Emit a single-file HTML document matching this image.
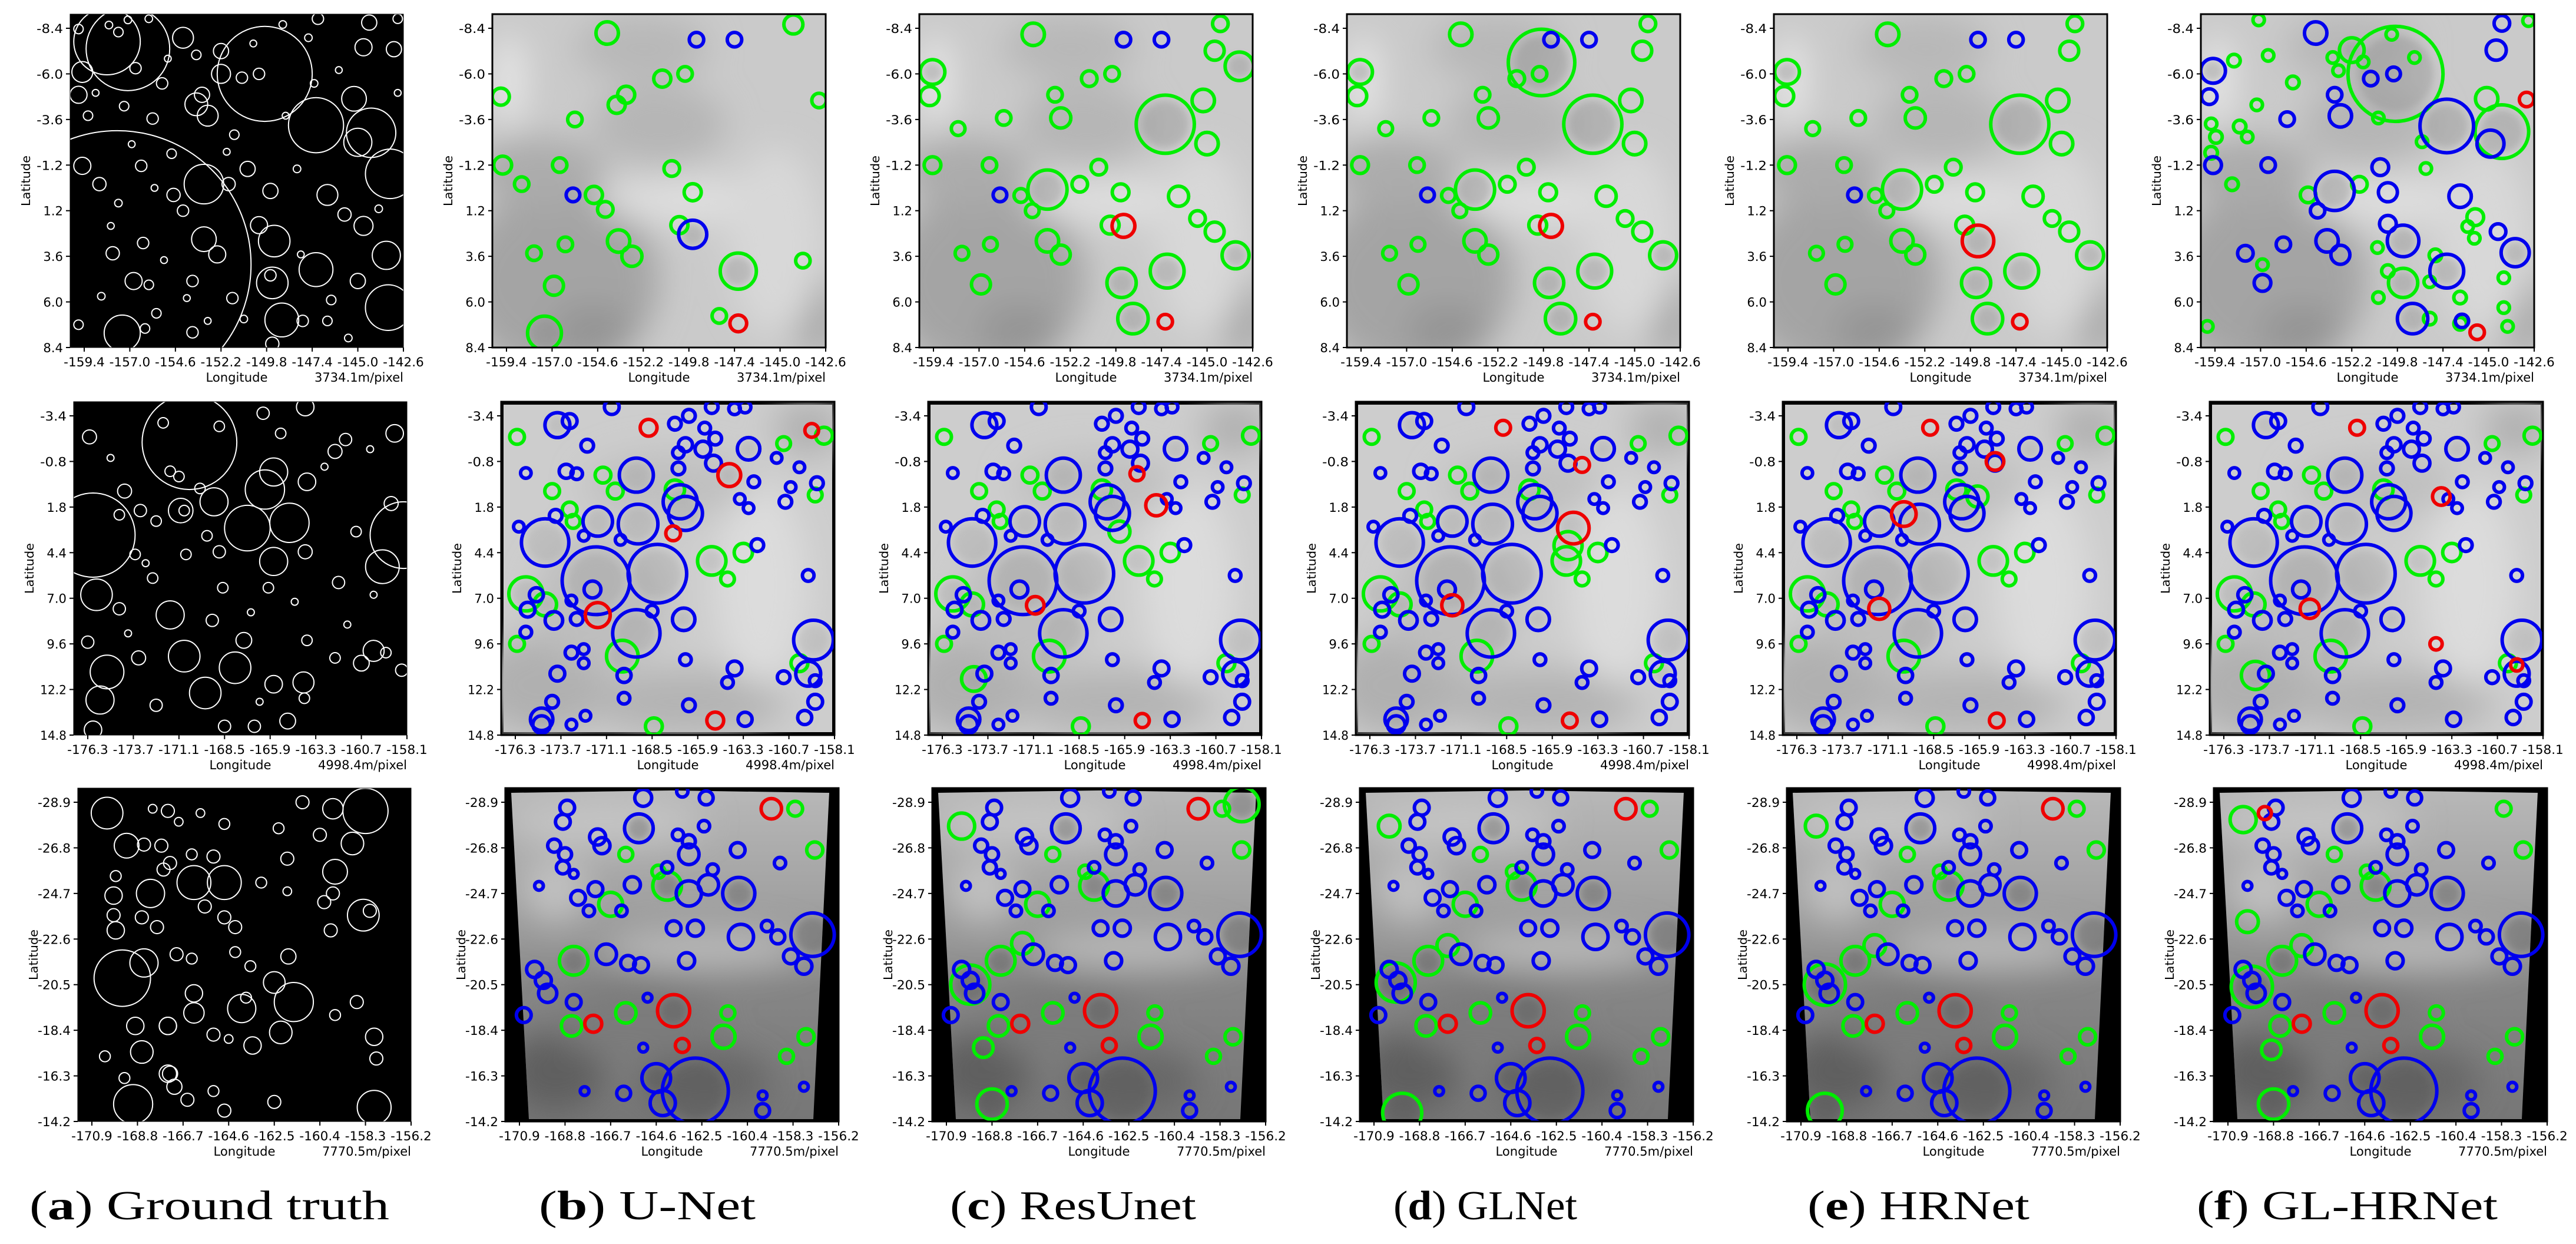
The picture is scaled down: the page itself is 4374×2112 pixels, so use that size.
<!DOCTYPE html>
<html><head><meta charset="utf-8">
<style>
html,body{margin:0;padding:0;background:#fff;}
svg{display:block;}
.tk{font-family:"DejaVu Sans Condensed","Liberation Sans Narrow","Liberation Sans",sans-serif;font-size:21px;fill:#000;}
.lat{font-family:"DejaVu Sans","Liberation Sans",sans-serif;font-size:20px;fill:#000;}
.cap{font-family:"Liberation Serif","DejaVu Serif",serif;font-size:70px;fill:#000;}
</style></head>
<body>
<svg id="fig" xmlns="http://www.w3.org/2000/svg" width="4374" height="2112" viewBox="0 0 4374 2112">
<defs>
<filter id="bl" x="-20%" y="-20%" width="140%" height="140%"><feGaussianBlur stdDeviation="28"/></filter>
<filter id="bs" x="-50%" y="-50%" width="200%" height="200%"><feGaussianBlur stdDeviation="6"/></filter>
<linearGradient id="g3" x1="0" y1="0" x2="0" y2="1">
<stop offset="0" stop-color="#b8b8b8"/><stop offset="0.3" stop-color="#a4a4a4"/><stop offset="0.45" stop-color="#989898"/><stop offset="0.6" stop-color="#868686"/><stop offset="1" stop-color="#767676"/>
</linearGradient>
</defs>
</svg>
<script>
// ---------- axes ----------
const r1Lon=[-159.4,-142.6], r1Lat=[-8.4,8.4];
const r1LonTicks=["-159.4","-157.0","-154.6","-152.2","-149.8","-147.4","-145.0","-142.6"];
const r1LatTicks=["-8.4","-6.0","-3.6","-1.2","1.2","3.6","6.0","8.4"];
const r2Lon=[-176.3,-158.1], r2Lat=[-3.4,14.8];
const r2LonTicks=["-176.3","-173.7","-171.1","-168.5","-165.9","-163.3","-160.7","-158.1"];
const r2LatTicks=["-3.4","-0.8","1.8","4.4","7.0","9.6","12.2","14.8"];
const r3Lon=[-170.9,-156.2], r3Lat=[-28.9,-14.2];
const r3LonTicks=["-170.9","-168.8","-166.7","-164.6","-162.5","-160.4","-158.3","-156.2"];
const r3LatTicks=["-28.9","-26.8","-24.7","-22.6","-20.5","-18.4","-16.3","-14.2"];
const scaleLabels=["3734.1m/pixel","4998.4m/pixel","7770.5m/pixel"];
const captionLetters=["a","b","c","d","e","f"];
const captionNames=["Ground truth","U-Net","ResUnet","GLNet","HRNet","GL-HRNet"];

// ---------- ground truth ----------
const gt1Big=[[-157.66,4.03,7.04],[-149.9,-6.0,2.5],[-147.2,-3.3,1.45],[-144.3,-2.9,1.3],[-157.1,-7.32,2.2],[-158.2,-7.7,1.75],[-153.1,-0.2,1.04],[-143.4,6.3,1.2],[-157.4,7.64,0.95],[-149.0,6.95,0.89],[-147.2,4.3,0.89],[-143.5,3.55,0.74],[-143.3,-0.74,1.3],[-145.0,-2.4,0.74],[-145.2,-4.69,0.65],[-149.5,5.0,0.83],[-149.4,2.8,0.83],[-153.1,2.7,0.65],[-152.4,3.5,0.45],[-153.5,-4.4,0.6],[-154.2,-7.9,0.55],[-152.2,-6.0,0.5]];
const gt1Small=[[-159.7,-8.36,0.25],[-158.1,-8.57,0.2],[-157.6,-8.2,0.25],[-157.1,-8.84,0.2],[-156.0,-8.9,0.2],[-148.95,-8.6,0.2],[-147.6,-7.9,0.2],[-147.1,-8.9,0.3],[-144.4,-8.7,0.4],[-142.9,-8.9,0.25],[-144.7,-7.4,0.45],[-143.1,-7.3,0.4],[-159.5,-6.1,0.55],[-156.7,-6.3,0.3],[-155.3,-5.5,0.3],[-159.7,-4.9,0.45],[-153.2,-4.9,0.4],[-152.9,-3.8,0.55],[-151.1,-5.8,0.3],[-150.2,-6.0,0.3],[-153.5,-7.0,0.25],[-152.2,-7.2,0.4],[-157.3,-4.3,0.25],[-155.8,-3.65,0.3],[-159.2,-3.8,0.25],[-159.5,-1.16,0.45],[-156.4,-1.16,0.3],[-158.6,-0.2,0.35],[-154.7,0.37,0.35],[-154.2,1.2,0.3],[-151.8,-0.2,0.35],[-150.8,-1.0,0.4],[-149.6,0.16,0.4],[-146.6,0.37,0.55],[-145.7,1.4,0.35],[-144.7,2.0,0.5],[-150.2,1.96,0.45],[-156.3,2.9,0.3],[-157.9,3.44,0.35],[-156.8,4.9,0.45],[-153.7,4.9,0.3],[-151.6,5.8,0.3],[-149.6,4.6,0.3],[-156.0,5.1,0.25],[-147.9,7.0,0.3],[-146.6,7.0,0.25],[-156.2,7.4,0.25],[-153.7,7.6,0.3],[-149.5,8.2,0.35],[-159.7,7.2,0.25],[-145.0,4.9,0.4],[-146.4,5.9,0.25],[-154.8,-1.8,0.25],[-148.2,-1.0,0.2],[-151.5,-2.8,0.25],[-157.6,0.8,0.2],[-155.6,6.6,0.25],[-147.3,-5.5,0.2],[-158.8,-5.0,0.18],[-155.0,-6.8,0.18],[-151.9,-1.9,0.18],[-148.8,-3.8,0.18],[-146.0,-6.2,0.18],[-142.9,-5.0,0.18],[-155.2,3.8,0.18],[-151.0,6.9,0.2],[-145.5,7.9,0.2],[-158.5,5.7,0.2],[-150.5,-7.6,0.18],[-143.9,1.1,0.2],[-154.0,5.8,0.18],[-152.9,7.0,0.18],[-148.0,3.5,0.18],[-156.9,-2.3,0.18],[-155.7,0.0,0.18],[-158.0,2.0,0.18]];
const gt2Big=[[-170.5,-1.9,2.7],[-176.0,3.4,2.4],[-158.3,3.4,1.9],[-167.2,3.0,1.3],[-164.8,2.7,1.12],[-165.7,4.9,0.8],[-169.1,1.5,0.8],[-166.2,0.8,1.12],[-171.0,2.0,0.7],[-171.6,7.95,0.8],[-170.8,10.3,0.9],[-169.6,12.4,0.9],[-167.9,10.96,0.9],[-175.2,11.2,0.96],[-175.8,6.8,0.9],[-159.5,5.2,0.96],[-175.6,12.8,0.8],[-165.7,-0.2,0.8],[-160.0,10.0,0.6],[-164.0,11.8,0.6]];
const gt2Small=[[-176.2,-2.2,0.4],[-172.0,-3.0,0.3],[-166.3,-3.55,0.35],[-168.8,-2.8,0.3],[-165.3,-2.4,0.3],[-163.9,-3.9,0.5],[-161.6,-2.05,0.35],[-158.8,-2.4,0.5],[-162.2,-1.37,0.4],[-171.6,-0.24,0.3],[-171.1,0.06,0.3],[-163.8,0.36,0.5],[-174.2,0.89,0.4],[-169.9,0.74,0.3],[-174.5,2.24,0.3],[-173.3,2.0,0.35],[-170.8,2.0,0.3],[-172.4,2.6,0.3],[-169.5,3.44,0.3],[-163.9,4.35,0.4],[-168.8,4.35,0.35],[-173.6,4.5,0.3],[-170.7,4.5,0.3],[-172.6,5.85,0.3],[-168.6,6.4,0.3],[-166.0,6.4,0.3],[-162.0,6.1,0.35],[-174.5,7.6,0.35],[-169.2,8.26,0.35],[-167.4,9.4,0.45],[-176.3,9.5,0.35],[-173.4,10.4,0.4],[-163.8,9.4,0.3],[-165.7,11.9,0.5],[-160.7,10.7,0.45],[-159.3,10.1,0.3],[-158.4,11.1,0.35],[-163.95,12.7,0.3],[-172.4,13.1,0.35],[-176.0,14.5,0.5],[-168.5,14.3,0.35],[-166.8,14.3,0.35],[-164.9,14.0,0.45],[-162.2,10.4,0.3],[-161.0,3.2,0.3],[-159.0,1.6,0.4],[-175.0,-1.0,0.2],[-173.0,5.0,0.2],[-167.0,7.8,0.2],[-164.5,7.2,0.2],[-161.5,8.5,0.2],[-160.0,6.8,0.2],[-174.0,9.0,0.2],[-166.5,12.9,0.2],[-162.8,-0.5,0.2],[-160.2,-1.5,0.2]];
const gt3Big=[[-169.5,-20.8,1.3],[-168.5,-21.5,0.65],[-158.3,-28.5,1.04],[-169.0,-15.0,0.9],[-157.9,-14.85,0.78],[-166.2,-25.2,0.78],[-164.8,-25.2,0.78],[-164.0,-19.4,0.65],[-161.6,-19.7,0.9],[-162.5,-20.6,0.5],[-158.4,-23.7,0.73],[-159.7,-25.7,0.57],[-168.2,-24.7,0.65],[-169.3,-26.9,0.57],[-159.8,-28.6,0.47],[-158.9,-27.0,0.52],[-170.2,-28.4,0.73],[-168.6,-17.4,0.52],[-166.2,-19.2,0.47],[-162.2,-18.3,0.52],[-168.9,-18.6,0.4],[-167.4,-18.6,0.4],[-167.4,-16.4,0.4]];
const gt3Small=[[-168.1,-28.6,0.2],[-167.4,-28.5,0.3],[-165.9,-28.4,0.2],[-166.9,-28.0,0.2],[-164.8,-27.9,0.25],[-161.2,-28.9,0.3],[-162.3,-27.7,0.25],[-160.4,-27.4,0.3],[-168.5,-26.95,0.3],[-167.7,-26.9,0.3],[-166.3,-26.5,0.25],[-165.3,-26.4,0.3],[-161.9,-26.3,0.3],[-167.3,-26.1,0.3],[-167.6,-25.8,0.3],[-169.8,-25.5,0.25],[-169.9,-24.6,0.4],[-169.9,-23.7,0.3],[-168.6,-23.6,0.3],[-169.8,-23.0,0.4],[-167.9,-23.15,0.3],[-164.8,-23.6,0.3],[-164.3,-23.15,0.3],[-165.7,-24.1,0.3],[-163.1,-25.2,0.25],[-161.9,-24.8,0.2],[-160.2,-24.3,0.3],[-159.9,-23.0,0.3],[-158.1,-23.9,0.3],[-159.8,-24.7,0.3],[-167.0,-21.9,0.3],[-166.3,-21.7,0.25],[-164.3,-22.0,0.25],[-161.85,-21.8,0.35],[-163.6,-21.35,0.25],[-158.7,-19.7,0.3],[-159.7,-19.1,0.25],[-166.2,-20.1,0.4],[-163.8,-19.9,0.25],[-167.4,-18.6,0.4],[-165.3,-18.2,0.3],[-164.6,-18.0,0.2],[-163.5,-17.7,0.4],[-157.9,-18.1,0.4],[-157.8,-17.1,0.3],[-167.3,-16.4,0.35],[-167.1,-15.8,0.35],[-169.4,-16.2,0.25],[-166.5,-15.2,0.3],[-165.3,-15.6,0.25],[-164.8,-14.7,0.3],[-162.5,-15.1,0.3],[-170.3,-17.2,0.25]];

// ---------- row 1 detections ----------
const r1bGreen=[[-154.1,-8.15,0.59],[-144.3,-8.6,0.5],[-151.2,-5.75,0.45],[-150.0,-6.0,0.38],[-159.7,-4.8,0.45],[-142.95,-4.6,0.38],[-153.1,-4.9,0.45],[-153.6,-4.37,0.45],[-155.8,-3.6,0.38],[-159.6,-1.2,0.47],[-156.6,-1.2,0.38],[-150.7,-1.02,0.41],[-158.6,-0.2,0.38],[-154.8,0.37,0.45],[-154.2,1.13,0.41],[-149.6,0.23,0.45],[-150.3,1.96,0.45],[-153.5,2.8,0.59],[-152.8,3.6,0.53],[-156.3,2.97,0.38],[-157.95,3.44,0.38],[-143.8,3.83,0.38],[-147.2,4.38,0.95],[-156.9,5.15,0.5],[-148.2,6.74,0.38],[-157.4,7.64,0.89]];
const r1bBlue=[[-149.4,-7.8,0.38],[-147.4,-7.8,0.38],[-155.9,0.37,0.36],[-149.6,2.44,0.74]];
const r1bRed=[[-147.2,7.13,0.44]];
const r1eGreen=[[-154.15,-8.08,0.59],[-144.3,-8.64,0.41],[-144.6,-7.22,0.5],[-159.45,-6.1,0.65],[-159.6,-4.83,0.5],[-151.2,-5.75,0.41],[-150.0,-6.0,0.38],[-153.0,-4.9,0.38],[-152.7,-3.68,0.53],[-155.7,-3.68,0.38],[-158.1,-3.12,0.36],[-147.2,-3.35,1.53],[-145.2,-4.6,0.59],[-145.0,-2.33,0.59],[-159.45,-1.2,0.44],[-156.45,-1.2,0.38],[-150.7,-1.09,0.41],[-154.8,0.4,0.36],[-153.4,0.09,1.03],[-154.2,1.2,0.36],[-151.7,-0.19,0.41],[-149.55,0.23,0.44],[-146.5,0.44,0.53],[-145.5,1.61,0.41],[-144.6,2.3,0.5],[-143.5,3.55,0.71],[-150.1,1.96,0.47],[-153.4,2.79,0.59],[-152.7,3.51,0.5],[-156.4,2.97,0.36],[-157.9,3.44,0.36],[-147.1,4.38,0.89],[-149.5,5.0,0.77],[-156.9,5.08,0.5],[-148.9,6.88,0.8]];
const r1eBlue=[[-149.4,-7.8,0.38],[-147.4,-7.8,0.38],[-155.9,0.37,0.36]];
const r1eRed=[[-149.4,2.79,0.83],[-147.2,7.04,0.38]];
const r1cGreen=r1eGreen.concat([[-143.3,-6.4,0.75]]);
const r1cBlue=[[-149.4,-7.8,0.38],[-147.4,-7.8,0.38],[-155.9,0.37,0.36]];
const r1cRed=[[-149.4,2.0,0.6],[-147.2,7.04,0.38]];
const r1dGreen=r1eGreen.concat([[-149.9,-6.6,1.75]]);
const r1dBlue=[[-149.4,-7.8,0.38],[-147.4,-7.8,0.38],[-155.9,0.37,0.36]];
const r1dRed=[[-149.4,2.0,0.6],[-147.2,7.04,0.38]];
const r1fGreen=[[-149.9,-6.0,2.5],[-144.3,-2.96,1.41],[-145.1,-4.69,0.59],[-152.2,-7.25,0.65],[-154.5,0.37,0.41],[-151.8,-0.19,0.41],[-145.7,1.54,0.44],[-149.5,5.0,0.77],[-157.1,-8.84,0.3],[-156.6,-6.97,0.3],[-158.4,-6.7,0.33],[-155.3,-5.55,0.33],[-157.2,-4.37,0.3],[-159.6,-3.37,0.3],[-159.35,-2.68,0.33],[-158.1,-3.23,0.33],[-157.7,-2.68,0.3],[-159.6,-1.85,0.33],[-158.5,-0.19,0.33],[-150.1,-8.08,0.3],[-148.9,-6.86,0.3],[-148.5,-2.43,0.3],[-148.3,-1.02,0.3],[-150.8,-3.68,0.3],[-146.1,2.03,0.3],[-145.75,2.65,0.3],[-150.85,3.14,0.3],[-150.3,4.38,0.33],[-148.1,4.94,0.3],[-146.5,5.77,0.33],[-144.2,4.73,0.3],[-144.2,6.3,0.3],[-144.0,7.29,0.3],[-146.5,7.15,0.33],[-148.1,6.88,0.33],[-150.8,5.77,0.3],[-156.9,4.04,0.3],[-159.8,7.29,0.3],[-147.8,3.55,0.33],[-153.2,-6.86,0.3],[-152.9,-6.17,0.3],[-151.6,-6.63,0.3],[-142.9,-8.8,0.3]];
const r1fBlue=[[-147.2,-3.26,1.41],[-144.9,-2.33,0.71],[-144.6,-7.25,0.53],[-144.3,-8.66,0.41],[-154.1,-8.15,0.59],[-159.5,-6.16,0.65],[-159.7,-4.8,0.41],[-152.8,-3.79,0.59],[-155.6,-3.62,0.38],[-153.1,-4.9,0.38],[-151.2,-5.75,0.38],[-150.0,-6.0,0.36],[-159.5,-1.2,0.44],[-156.6,-1.2,0.38],[-150.7,-1.09,0.44],[-153.1,0.16,1.03],[-154.0,1.2,0.38],[-150.3,0.23,0.5],[-146.5,0.44,0.59],[-144.5,2.3,0.41],[-143.6,3.41,0.74],[-150.3,1.89,0.44],[-149.5,2.79,0.83],[-153.5,2.79,0.59],[-152.8,3.52,0.5],[-155.8,2.97,0.38],[-157.8,3.44,0.41],[-147.2,4.38,0.89],[-156.9,5.0,0.44],[-149.0,6.88,0.8],[-146.4,7.0,0.35]];
const r1fRed=[[-143.0,-4.65,0.38],[-145.6,7.6,0.38]];

// ---------- row 2 detections ----------
const r2bBlue=[[-171.7,6.0,1.93],[-168.2,5.6,1.67],[-174.6,3.82,1.35],[-169.3,2.77,1.13],[-171.6,2.62,0.84],[-169.4,-0.02,0.97],[-169.4,9.0,1.35],[-166.6,2.16,0.97],[-166.9,1.5,0.97],[-159.3,9.38,1.13],[-159.6,11.3,0.71],[-173.9,-2.87,0.71],[-163.0,-1.52,0.64],[-166.7,8.2,0.64],[-171.9,6.5,0.48],[-174.8,13.9,0.64],[-170.8,-3.9,0.42],[-173.2,-3.1,0.42],[-172.2,-1.7,0.36],[-167.2,-2.95,0.36],[-166.4,-3.4,0.36],[-165.1,-3.9,0.36],[-163.8,-3.8,0.33],[-163.2,-3.9,0.33],[-165.5,-2.7,0.33],[-164.9,-2.1,0.36],[-166.6,-1.75,0.4],[-165.6,-1.5,0.45],[-167.0,-1.3,0.33],[-165.0,-0.7,0.45],[-167.0,-0.4,0.36],[-162.7,0.36,0.33],[-161.4,-1.0,0.3],[-160.1,-0.47,0.3],[-159.1,0.44,0.36],[-160.6,0.66,0.3],[-160.9,1.5,0.36],[-163.5,1.34,0.3],[-163.0,1.86,0.3],[-173.4,-0.24,0.4],[-172.8,-0.1,0.33],[-175.7,-0.14,0.3],[-176.1,2.92,0.3],[-174.0,2.3,0.36],[-172.4,3.44,0.3],[-170.3,3.67,0.3],[-162.5,3.97,0.36],[-159.6,5.7,0.33],[-175.1,6.8,0.4],[-175.6,7.65,0.42],[-174.1,8.26,0.5],[-172.8,8.18,0.36],[-173.1,7.13,0.3],[-168.5,7.73,0.33],[-175.7,8.93,0.33],[-173.1,10.1,0.36],[-172.4,9.9,0.3],[-172.4,10.7,0.3],[-173.9,11.3,0.42],[-170.1,11.4,0.4],[-166.6,10.5,0.33],[-163.8,11.0,0.42],[-164.2,11.8,0.33],[-161.0,11.5,0.36],[-159.2,11.7,0.33],[-159.2,12.9,0.42],[-159.8,13.8,0.4],[-163.2,13.9,0.4],[-166.4,13.1,0.36],[-170.1,12.7,0.33],[-174.2,12.9,0.36],[-173.1,14.2,0.3],[-172.3,13.7,0.3],[-174.8,14.2,0.5]];
const r2bGreen=[[-170.2,10.3,0.9],[-165.1,4.87,0.81],[-175.7,6.75,0.97],[-163.3,4.39,0.52],[-158.7,-2.27,0.48],[-176.2,-2.2,0.42],[-174.2,0.89,0.42],[-171.3,-0.02,0.45],[-170.6,0.89,0.45],[-167.2,0.81,0.55],[-173.2,1.94,0.42],[-173.0,2.62,0.39],[-161.0,-1.82,0.39],[-159.2,1.11,0.39],[-164.2,5.9,0.39],[-176.2,9.6,0.42],[-168.4,14.3,0.48],[-174.6,7.35,0.65],[-160.1,10.7,0.48]];
const r2bRed=[[-168.7,-2.72,0.48],[-164.1,-0.02,0.65],[-171.6,7.96,0.71],[-167.3,3.3,0.42],[-164.9,13.97,0.48],[-159.4,-2.57,0.39]];
const r2cBlue=r2bBlue, r2cGreen=r2bGreen.concat([[-166.2,3.2,0.6],[-174.5,11.6,0.7]]), r2cRed=[[-164.1,1.7,0.6],[-171.0,7.4,0.5],[-165.2,-0.1,0.4],[-164.9,13.97,0.4]];
const r2dBlue=r2bBlue, r2dGreen=r2bGreen.concat([[-165.0,4.0,0.8]]), r2dRed=[[-168.7,-2.72,0.42],[-164.7,3.0,0.9],[-171.6,7.4,0.6],[-164.2,-0.6,0.42],[-164.9,13.97,0.42]];
const r2eBlue=r2bBlue, r2eGreen=r2bGreen.concat([[-166.0,1.2,0.6]]), r2eRed=[[-168.7,-2.72,0.42],[-170.2,2.2,0.7],[-165.0,-0.8,0.5],[-171.6,7.6,0.6],[-164.9,13.97,0.42]];
const r2fBlue=r2bBlue, r2fGreen=r2bGreen.concat([[-174.5,11.4,0.8]]), r2fRed=[[-168.7,-2.72,0.42],[-163.9,1.2,0.5],[-171.4,7.6,0.55],[-164.2,9.6,0.35],[-159.6,10.8,0.35]];

// ---------- row 3 detections ----------
const r3bBlue=[[-165.4,-27.7,0.66],[-160.8,-24.7,0.74],[-157.4,-22.8,1.0],[-162.8,-15.6,1.52],[-164.6,-16.2,0.66],[-164.3,-15.05,0.58],[-163.1,-24.7,0.58],[-162.2,-25.1,0.47],[-160.7,-22.7,0.58],[-163.1,-26.5,0.47],[-165.7,-25.1,0.37],[-166.9,-21.9,0.47],[-165.9,-21.5,0.34],[-165.3,-21.4,0.34],[-163.2,-21.6,0.37],[-163.8,-23.1,0.34],[-162.8,-23.1,0.37],[-170.2,-21.2,0.37],[-169.8,-20.7,0.37],[-169.6,-20.1,0.42],[-168.4,-19.7,0.34],[-170.7,-19.1,0.34],[-168.7,-28.65,0.34],[-168.9,-28.0,0.34],[-169.3,-26.9,0.3],[-168.8,-26.5,0.3],[-168.9,-25.9,0.3],[-167.3,-27.3,0.37],[-167.1,-26.9,0.37],[-165.2,-29.1,0.39],[-163.4,-29.4,0.26],[-162.3,-29.1,0.32],[-162.4,-27.8,0.26],[-163.6,-27.4,0.26],[-163.1,-27.1,0.3],[-160.85,-26.7,0.34],[-158.9,-26.1,0.26],[-162.0,-25.8,0.26],[-168.4,-25.6,0.2],[-170.0,-25.05,0.2],[-168.2,-24.5,0.34],[-167.4,-24.9,0.34],[-167.7,-23.9,0.26],[-166.2,-23.9,0.26],[-164.1,-25.9,0.26],[-159.5,-23.2,0.26],[-159.0,-22.7,0.32],[-158.4,-21.8,0.34],[-157.8,-21.35,0.37],[-165.0,-19.9,0.2],[-165.2,-17.6,0.2],[-167.9,-15.6,0.2],[-166.1,-15.5,0.32],[-159.7,-15.4,0.2],[-159.7,-14.7,0.32],[-157.8,-15.8,0.2]];
const r3bGreen=[[-168.4,-21.6,0.66],[-166.0,-19.2,0.47],[-168.5,-18.6,0.47],[-161.5,-18.1,0.53],[-164.1,-25.05,0.66],[-166.7,-24.2,0.55],[-161.3,-19.2,0.32],[-157.7,-18.1,0.37],[-158.6,-17.2,0.32],[-158.2,-28.6,0.34],[-157.3,-26.7,0.37],[-166.0,-26.5,0.32],[-164.5,-25.7,0.3]];
const r3bRed=[[-159.3,-28.6,0.47],[-163.8,-19.3,0.74],[-167.5,-18.7,0.39],[-163.4,-17.7,0.32]];
const r3cBlue=r3bBlue, r3cGreen=r3bGreen.concat([[-169.8,-20.5,0.9],[-168.8,-15.0,0.7],[-157.3,-28.8,0.8],[-170.2,-27.8,0.6],[-167.4,-22.4,0.5],[-169.2,-17.6,0.45]]), r3cRed=r3bRed;
const r3dBlue=r3bBlue, r3dGreen=r3bGreen.concat([[-169.9,-20.6,0.9],[-169.6,-14.6,0.9],[-170.2,-27.8,0.5],[-167.5,-22.3,0.5]]), r3dRed=r3bRed;
const r3eBlue=r3bBlue, r3eGreen=r3bGreen.concat([[-169.8,-20.5,0.95],[-169.8,-14.7,0.8],[-170.2,-27.8,0.5],[-167.5,-22.3,0.5]]), r3eRed=r3bRed;
const r3fBlue=r3bBlue, r3fGreen=r3bGreen.concat([[-169.8,-20.4,0.95],[-168.8,-15.0,0.7],[-170.2,-28.1,0.6],[-167.5,-22.3,0.5],[-168.9,-17.5,0.45],[-170.0,-23.4,0.5]]), r3fRed=[[-169.2,-28.4,0.3],[-163.8,-19.3,0.74],[-167.5,-18.7,0.39],[-163.4,-17.7,0.32]];

// ---------- drawing ----------
const NS='http://www.w3.org/2000/svg';
const svg=document.getElementById('fig');
function mk(tag,attrs,parent){const e=document.createElementNS(NS,tag);for(const k in attrs)e.setAttribute(k,attrs[k]);parent.appendChild(e);return e;}
const W=566,P=24,S=542;
const rowTop=[24,682,1338];
const colLeft=[119,836,1561,2287,3012,3737];
const rowShiftA=[0,6,13], rowShift=[0,15,22];
const axes=[{lon:r1Lon,lat:r1Lat,lt:r1LonTicks,at:r1LatTicks},{lon:r2Lon,lat:r2Lat,lt:r2LonTicks,at:r2LatTicks},{lon:r3Lon,lat:r3Lat,lt:r3LonTicks,at:r3LatTicks}];
const bgBase=['#cacaca','#cdcdcd'];
const bgSpots=[
 [[0.2,0.8,0.3,0.28,'#a4a4a4'],[0.14,0.47,0.2,0.1,'#acacac'],[0.5,0.33,0.2,0.12,'#b6b6b6'],[0.45,0.1,0.2,0.1,'#b8b8b8'],[0.97,0.9,0.08,0.12,'#a8a8a8'],[0.05,0.2,0.05,0.14,'#e6e6e6'],[0.62,0.56,0.3,0.07,'#dedede'],[0.85,0.68,0.14,0.28,'#d8d8d8'],[0.3,0.95,0.12,0.08,'#949494']],
 [[0.12,0.85,0.2,0.15,'#b0b0b0'],[0.55,0.9,0.3,0.1,'#b4b4b4'],[0.3,0.6,0.2,0.2,'#bebebe'],[0.78,0.55,0.14,0.3,'#dcdcdc'],[0.92,0.08,0.1,0.08,'#b0b0b0'],[0.5,0.25,0.25,0.1,'#c0c0c0']],
 [[0.15,0.85,0.15,0.12,'#5f5f5f'],[0.6,0.88,0.2,0.1,'#676767'],[0.6,0.48,0.3,0.06,'#b8b8b8'],[0.3,0.1,0.3,0.07,'#c4c4c4'],[0.15,0.3,0.1,0.1,'#c0c0c0'],[0.4,0.7,0.25,0.12,'#7c7c7c']]
];
const detections={
 '1b':[r1bGreen,r1bBlue,r1bRed],'1c':[r1cGreen,r1cBlue,r1cRed],'1d':[r1dGreen,r1dBlue,r1dRed],'1e':[r1eGreen,r1eBlue,r1eRed],'1f':[r1fGreen,r1fBlue,r1fRed],
 '2b':[r2bGreen,r2bBlue,r2bRed],'2c':[r2cGreen,r2cBlue,r2cRed],'2d':[r2dGreen,r2dBlue,r2dRed],'2e':[r2eGreen,r2eBlue,r2eRed],'2f':[r2fGreen,r2fBlue,r2fRed],
 '3b':[r3bGreen,r3bBlue,r3bRed],'3c':[r3cGreen,r3cBlue,r3cRed],'3d':[r3dGreen,r3dBlue,r3dRed],'3e':[r3eGreen,r3eBlue,r3eRed],'3f':[r3fGreen,r3fBlue,r3fRed]
};
const gtData=[[gt1Big,gt1Small],[gt2Big,gt2Small],[gt3Big,gt3Small]];
const colors=['#00ee00','#0000ee','#ee0000'];
const colorNames=['true-positive-crater','false-negative-crater','false-positive-crater'];

for(let r=0;r<3;r++){
 for(let c=0;c<6;c++){
  const left=colLeft[c]+(c===0?rowShiftA[r]:rowShift[r]);
  const top=rowTop[r];
  const ax=axes[r];
  const id='panel-'+(r+1)+captionLetters[c];
  const g=mk('g',{},svg);
  
  
  const xs=v=>left+P+(v-ax.lon[0])/(ax.lon[1]-ax.lon[0])*S;
  const ys=v=>top+P+(v-ax.lat[0])/(ax.lat[1]-ax.lat[0])*S;
  const rs=v=>v/(ax.lon[1]-ax.lon[0])*S;
  const cp=mk('clipPath',{id:'cp-'+id},g);
  mk('rect',{x:left,y:top,width:W,height:W},cp);
  const inner=mk('g',{'clip-path':'url(#cp-'+id+')'},g);
  if(c===0){
   const bg=mk('rect',{x:left,y:top,width:W,height:W,fill:'#000'},inner);
   
   
   gtData[r].forEach(set=>set.forEach(d=>{
    const e=mk('circle',{cx:xs(d[0]),cy:ys(d[1]),r:rs(d[2]),fill:'none',stroke:'#fff','stroke-width':2},inner);
    
    
   }));
  } else {
   let area=inner;
   if(r===2){
    mk('rect',{x:left,y:top,width:W,height:W,fill:'#000'},inner);
    const tcp=mk('clipPath',{id:'tcp-'+id},g);
    const pts=`${left+10},${top+8} ${left+W/2},${top+4} ${left+550},${top+8} ${left+523},${top+562} ${left+40},${top+562}`;
    mk('polygon',{points:pts},tcp);
    area=mk('g',{'clip-path':'url(#tcp-'+id+')'},inner);
    mk('rect',{x:left,y:top,width:W,height:W,fill:'url(#g3)'},area);
   } else if(r===1){
    mk('rect',{x:left,y:top,width:W,height:W,fill:'#000'},inner);
    mk('rect',{x:left+4,y:top+5,width:W-8,height:W-10,fill:bgBase[1]},inner);
   } else {
    mk('rect',{x:left,y:top,width:W,height:W,fill:bgBase[0]},inner);
   }
   const sp=mk('g',{filter:'url(#bl)'},area);
   bgSpots[r].forEach(s=>mk('ellipse',{cx:left+s[0]*W,cy:top+s[1]*W,rx:s[2]*W,ry:s[3]*W,fill:s[4]},sp));
   const bg=mk('g',{filter:'url(#bs)',opacity:r===1?0.2:0.35},area);
   
   
   const det=detections[(r+1)+captionLetters[c]];
   det.forEach(list=>list.forEach(d=>{ if(d[2]>0.6) mk('circle',{cx:xs(d[0]),cy:ys(d[1]),r:rs(d[2])*0.8,fill:r===2?'#555':'#8a8a8a'},bg); }));
   det.forEach((list,k)=>list.forEach(d=>{
    const e=mk('circle',{cx:xs(d[0]),cy:ys(d[1]),r:rs(d[2]),fill:'none',stroke:colors[k],'stroke-width':6},inner);
    
    
   }));
  }
  const fr=mk('rect',{x:left,y:top,width:W,height:W,fill:'none',stroke:'#000','stroke-width':c===0?1:3},g);
  
  
  ax.lt.forEach(t=>{
   const x=xs(parseFloat(t));
   mk('line',{x1:x,y1:top+W,x2:x,y2:top+W+7,stroke:'#000','stroke-width':2},g);
   const tx=mk('text',{x:x,y:top+W+32,'text-anchor':'middle',class:'tk',textLength:t.length*11.6,lengthAdjust:'spacingAndGlyphs'},g);
   
   
   tx.textContent=t;
  });
  ax.at.forEach(t=>{
   const y=ys(parseFloat(t));
   mk('line',{x1:left-7,y1:y,x2:left,y2:y,stroke:'#000','stroke-width':2},g);
   const tx=mk('text',{x:left-12,y:y+8,'text-anchor':'end',class:'tk',textLength:t.length*11.2,lengthAdjust:'spacingAndGlyphs'},g);
   
   
   tx.textContent=t;
  });
  const xl=mk('text',{x:left+W/2,y:top+W+58,'text-anchor':'middle',class:'tk',textLength:105,lengthAdjust:'spacingAndGlyphs'},g);
  
  
  xl.textContent='Longitude';
  const sl=mk('text',{x:left+W,y:top+W+58,'text-anchor':'end',class:'tk',textLength:151,lengthAdjust:'spacingAndGlyphs'},g);
  
  
  sl.textContent=scaleLabels[r];
  const yl=mk('text',{x:0,y:0,'text-anchor':'middle',class:'lat',transform:`translate(${left-68},${top+W/2}) rotate(-90)`,textLength:86,lengthAdjust:'spacingAndGlyphs'},g);
  
  
  yl.textContent='Latitude';
 }
}
// captions
const capLeft=[50,915,1613,2366,3069,3730];
const capWidth=[611,368,418,312,377,511];
for(let c=0;c<6;c++){
 const t=mk('text',{x:capLeft[c],y:2070,class:'cap',textLength:capWidth[c],lengthAdjust:'spacingAndGlyphs'},svg);
 
 
 const a=mk('tspan',{},t); a.textContent='(';
 const b=mk('tspan',{'font-weight':'bold'},t); b.textContent=captionLetters[c];
 const d=mk('tspan',{},t); d.textContent=') '+captionNames[c];
}
</script>
</body></html>
